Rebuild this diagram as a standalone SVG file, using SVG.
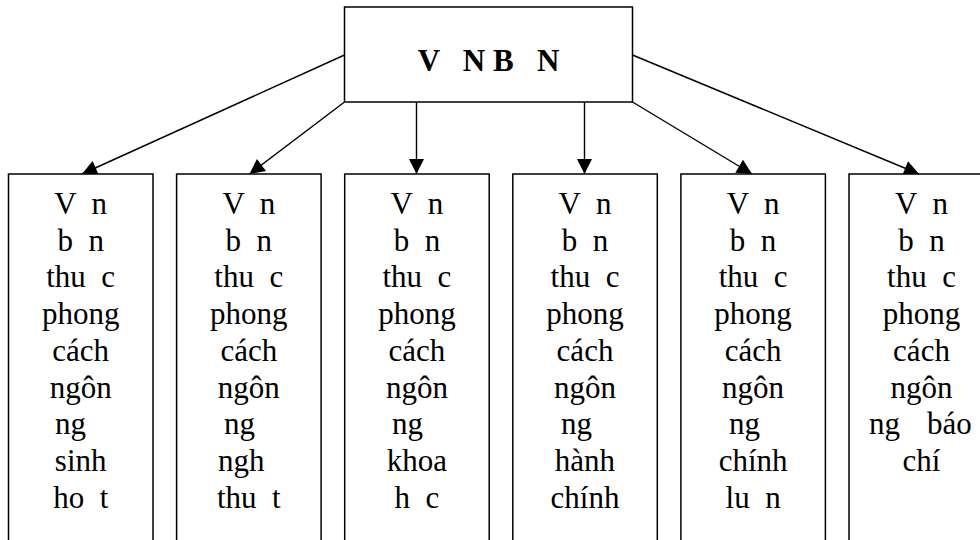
<svg xmlns="http://www.w3.org/2000/svg" width="980" height="540" viewBox="0 0 980 540">
  <style>
    .box { fill: #fff; stroke: #000; stroke-width: 1.5; }
    .edge { fill: none; stroke: #000; stroke-width: 1.4; marker-end: url(#head); }
    text { font-family: "Liberation Serif", "Times New Roman", serif; font-size: 31px; fill: #000; white-space: pre; }
    .title { font-weight: bold; text-anchor: middle; }
    .c { text-anchor: middle; }
  </style>
  <defs>
    <marker id="head" markerUnits="userSpaceOnUse" markerWidth="15" markerHeight="15" refX="15" refY="7.5" orient="auto" overflow="visible">
      <path d="M0,0 L15,7.5 L0,15 Z" fill="#000"/>
    </marker>
  </defs>

  <!-- connectors from the root box to each category -->
  <g id="connectors">
    <line class="edge" x1="344.5" y1="55" x2="82" y2="174"/>
    <line class="edge" x1="344.5" y1="102" x2="249.5" y2="174"/>
    <line class="edge" x1="416.5" y1="102" x2="416.5" y2="174"/>
    <line class="edge" x1="584.5" y1="102" x2="584.5" y2="174"/>
    <line class="edge" x1="632.5" y1="102" x2="752" y2="174"/>
    <line class="edge" x1="632.5" y1="55" x2="919" y2="174"/>
  </g>

  <!-- root -->
  <g id="root">
    <rect class="box" x="344.5" y="7" width="288" height="95"/>
    <text class="title" x="488.5" y="71" xml:space="preserve">V   N B   N</text>
  </g>

  <!-- category boxes -->
  <g id="n1">
    <rect class="box" x="8.5" y="174" width="144.5" height="380"/>
    <g xml:space="preserve">
      <text class="c" x="80.7" y="214">V  n</text>
      <text class="c" x="80.7" y="250.7">b  n</text>
      <text class="c" x="80.7" y="287.4">thu  c</text>
      <text class="c" x="80.7" y="324.1">phong</text>
      <text class="c" x="80.7" y="360.8">cách</text>
      <text class="c" x="80.7" y="397.5">ngôn</text>
      <text x="55" y="434.2">ng</text>
      <text class="c" x="80.7" y="470.9">sinh</text>
      <text class="c" x="80.7" y="507.6">ho  t</text>
    </g>
  </g>

  <g id="n2">
    <rect class="box" x="176.6" y="174" width="144.5" height="380"/>
    <g xml:space="preserve">
      <text class="c" x="248.8" y="214">V  n</text>
      <text class="c" x="248.8" y="250.7">b  n</text>
      <text class="c" x="248.8" y="287.4">thu  c</text>
      <text class="c" x="248.8" y="324.1">phong</text>
      <text class="c" x="248.8" y="360.8">cách</text>
      <text class="c" x="248.8" y="397.5">ngôn</text>
      <text x="224" y="434.2">ng</text>
      <text x="218" y="470.9">ngh</text>
      <text class="c" x="248.8" y="507.6">thu  t</text>
    </g>
  </g>

  <g id="n3">
    <rect class="box" x="344.7" y="174" width="144.5" height="380"/>
    <g xml:space="preserve">
      <text class="c" x="416.9" y="214">V  n</text>
      <text class="c" x="416.9" y="250.7">b  n</text>
      <text class="c" x="416.9" y="287.4">thu  c</text>
      <text class="c" x="416.9" y="324.1">phong</text>
      <text class="c" x="416.9" y="360.8">cách</text>
      <text class="c" x="416.9" y="397.5">ngôn</text>
      <text x="392" y="434.2">ng</text>
      <text class="c" x="416.9" y="470.9">khoa</text>
      <text class="c" x="416.9" y="507.6">h  c</text>
    </g>
  </g>

  <g id="n4">
    <rect class="box" x="512.8" y="174" width="144.5" height="380"/>
    <g xml:space="preserve">
      <text class="c" x="585" y="214">V  n</text>
      <text class="c" x="585" y="250.7">b  n</text>
      <text class="c" x="585" y="287.4">thu  c</text>
      <text class="c" x="585" y="324.1">phong</text>
      <text class="c" x="585" y="360.8">cách</text>
      <text class="c" x="585" y="397.5">ngôn</text>
      <text x="561" y="434.2">ng</text>
      <text class="c" x="585" y="470.9">hành</text>
      <text class="c" x="585" y="507.6">chính</text>
    </g>
  </g>

  <g id="n5">
    <rect class="box" x="680.9" y="174" width="144.5" height="380"/>
    <g xml:space="preserve">
      <text class="c" x="753.1" y="214">V  n</text>
      <text class="c" x="753.1" y="250.7">b  n</text>
      <text class="c" x="753.1" y="287.4">thu  c</text>
      <text class="c" x="753.1" y="324.1">phong</text>
      <text class="c" x="753.1" y="360.8">cách</text>
      <text class="c" x="753.1" y="397.5">ngôn</text>
      <text x="729" y="434.2">ng</text>
      <text class="c" x="753.1" y="470.9">chính</text>
      <text class="c" x="753.1" y="507.6">lu  n</text>
    </g>
  </g>

  <g id="n6">
    <rect class="box" x="849" y="174" width="144.5" height="380"/>
    <g xml:space="preserve">
      <text class="c" x="921.5" y="214">V  n</text>
      <text class="c" x="921.5" y="250.7">b  n</text>
      <text class="c" x="921.5" y="287.4">thu  c</text>
      <text class="c" x="921.5" y="324.1">phong</text>
      <text class="c" x="921.5" y="360.8">cách</text>
      <text class="c" x="921.5" y="397.5">ngôn</text>
      <text x="869" y="434.2">ng <tspan x="927">báo</tspan></text>
      <text class="c" x="921.5" y="470.9">chí</text>
    </g>
  </g>
</svg>
